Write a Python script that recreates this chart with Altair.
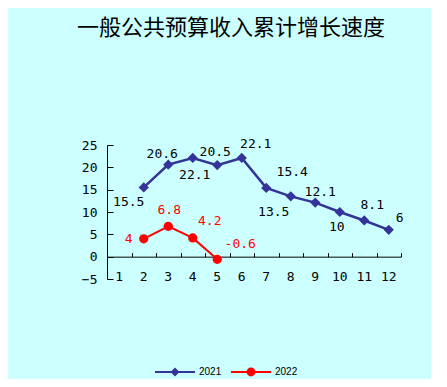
import altair as alt
import pandas as pd

# ---- data ----
months = list(range(1, 13))
years = ["2021", "2022"]
months_2021 = [2, 3, 4, 5, 6, 7, 8, 9, 10, 11, 12]
values_2021 = [15.5, 20.6, 22.1, 20.5, 22.1, 15.4, 13.5, 12.1, 10, 8.1, 6]
months_2022 = [2, 3, 4, 5]
values_2022 = [4, 6.8, 4.2, -0.6]
y_ticks = [-5, 0, 5, 10, 15, 20, 25]
title_text = "一般公共预算收入累计增长速度"

rows = [{"month": m, "value": v, "year": "2021"} for m, v in zip(months_2021, values_2021)]
rows += [{"month": m, "value": v, "year": "2022"} for m, v in zip(months_2022, values_2022)]
df = pd.DataFrame(rows)

# ---- layout / style ----
W, H = 294, 134
ZERO_POS = H * 25 / 30
MONO = "DejaVu Sans Mono"
BLUE, RED = "#333399", "#FF0000"

series_style = {
    "2021": {"color": BLUE, "width": 2.5, "shape": "diamond", "size": 105, "text": "black"},
    "2022": {"color": RED, "width": 2, "shape": "circle", "size": 85, "text": RED},
}

# label placement (dx, dy) relative to each point
label_offsets = {
    "2021": {2: (-15, 15), 3: (-6, -11), 4: (2, 17), 5: (-2, -13), 6: (14, -14), 7: (26, -16),
             8: (-17, 16), 9: (5, -11), 10: (-3, 15), 11: (8, -15), 12: (11, -12)},
    "2022": {2: (-15, 0), 3: (1, -16), 4: (17, -17), 5: (23, -15)},
}

x_scale = alt.Scale(type="band", domain=months, paddingInner=0, paddingOuter=0)
y_scale = alt.Scale(domain=[-5, 25], nice=False, zero=False)

x_bottom = alt.Axis(title=None, orient="bottom", domain=False, ticks=False, tickSize=0,
                    labelPadding=-9, labelAngle=0, labelFont=MONO, labelFontSize=13,
                    labelColor="black", grid=False, labelOverlap=False)
x_zero = alt.Axis(title=None, orient="top", offset=-ZERO_POS, labels=False, ticks=True,
                  tickBand="extent", tickSize=4, tickColor="black", domainColor="black",
                  grid=False)
y_left = alt.Axis(title=None, orient="left", values=y_ticks, domain=False, ticks=False,
                  tickSize=0, labelPadding=10, labelFont=MONO, labelFontSize=13,
                  labelColor="black", grid=False, labelOverlap=False)
y_inner = alt.Axis(title=None, orient="right", offset=-W, values=y_ticks, labels=False,
                   tickSize=6, tickColor="black", domainColor="black", grid=False)

path21 = "M-1,-0.05L1,-0.05L1,0.05L-1,0.05Z M0,-0.22L0.22,0L0,0.22L-0.22,0Z"
path22 = ("M-1,-0.05L1,-0.05L1,0.05L-1,0.05Z "
          "M0.22,0A0.22,0.22 0 1,1 -0.22,0A0.22,0.22 0 1,1 0.22,0Z")

legend = alt.Legend(title=None, orient="none", legendX=48, legendY=207, direction="horizontal",
                    columns=2, symbolSize=1600, symbolStrokeWidth=0,
                    labelFont="Liberation Sans", labelFontSize=10, labelColor="black",
                    labelOffset=4, columnPadding=9)

base = alt.Chart(df)


def xy(x_axis=None, y_axis=None):
    return dict(
        x=alt.X("month:O", scale=x_scale, axis=x_axis),
        y=alt.Y("value:Q", scale=y_scale, axis=y_axis),
    )


layers = []
for i, yr in enumerate(years):
    st = series_style[yr]
    sub = base.transform_filter(alt.datum.year == yr)
    layers.append(
        sub.mark_line(color=st["color"], strokeWidth=st["width"]).encode(
            **(xy(x_bottom, y_left) if i == 0 else xy())
        )
    )
for i, yr in enumerate(years):
    st = series_style[yr]
    sub = base.transform_filter(alt.datum.year == yr)
    layers.append(
        sub.mark_point(shape=st["shape"], filled=True, size=st["size"], color=st["color"],
                       opacity=1).encode(**(xy(x_zero, y_inner) if i == 0 else xy()))
    )

# legend-only layer: no rows survive the filter, the explicit domains drive the legend
layers.append(
    base.transform_filter("false").mark_point(filled=True, opacity=1).encode(
        **xy(),
        fill=alt.Fill("year:N", scale=alt.Scale(domain=years, range=[BLUE, RED]), legend=legend),
        shape=alt.Shape("year:N", scale=alt.Scale(domain=years, range=[path21, path22]),
                        legend=legend),
    )
)

for yr, offs in label_offsets.items():
    for m, (dx, dy) in offs.items():
        layers.append(
            base.transform_filter((alt.datum.year == yr) & (alt.datum.month == m))
            .transform_calculate(label="toString(datum.value)")
            .mark_text(dx=dx, dy=dy, font=MONO, fontSize=13, align="center", baseline="middle",
                       color=series_style[yr]["text"])
            .encode(**xy(), text="label:N")
        )

chart = alt.layer(*layers).properties(
    width=W,
    height=H,
    title=alt.TitleParams(text=title_text, font="Noto Sans CJK SC", fontSize=22,
                          fontWeight="normal", color="black", anchor="middle", frame="group",
                          baseline="middle", offset=88, dx=-23),
    background="#CCFFFF",
    padding={"left": 99, "top": 137, "right": 30, "bottom": 100},
    autosize=alt.AutoSizeParams(type="none"),
).resolve_axis(x="independent", y="independent").configure_view(stroke=None)

chart.save("out.html", embed_options={"renderer": "svg", "actions": False})
